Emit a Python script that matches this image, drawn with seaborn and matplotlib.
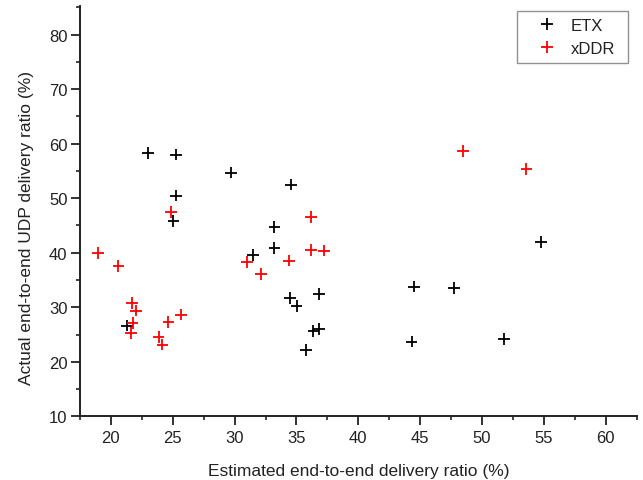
import matplotlib
matplotlib.use("Agg")
import matplotlib.pyplot as plt
from matplotlib.ticker import MultipleLocator
import seaborn as sns
import pandas as pd

# Estimated vs. actual end-to-end delivery ratio (%) for each metric
etx_est = [23.0, 25.25, 25.25, 25.06, 29.72, 34.56, 33.22, 33.22, 31.47, 34.48,
           35.02, 36.84, 36.37, 36.84, 35.75, 21.29, 54.76, 44.52, 47.75, 44.31, 51.77]
etx_act = [58.25, 58.0, 50.47, 45.83, 54.69, 52.49, 44.67, 40.88, 39.59, 31.7,
           30.18, 32.44, 25.7, 26.02, 22.16, 26.62, 41.92, 33.78, 33.54, 23.69, 24.13]

xddr_est = [24.87, 36.18, 48.48, 53.6, 18.95, 20.61, 21.7, 22.02, 21.75, 21.64,
            23.85, 24.17, 24.65, 25.68, 30.99, 32.14, 34.4, 36.18, 37.25]
xddr_act = [47.42, 46.5, 58.61, 55.37, 39.9, 37.57, 30.79, 29.37, 27.06, 25.23,
            24.6, 23.14, 27.24, 28.64, 38.25, 36.1, 38.55, 40.51, 40.38]

series_names = ["ETX", "xDDR"]
series_colors = ["black", "red"]

df = pd.DataFrame({
    "est": etx_est + xddr_est,
    "act": etx_act + xddr_act,
    "metric": [series_names[0]] * len(etx_est) + [series_names[1]] * len(xddr_est),
})

sns.set_style("ticks")
plt.rcParams["font.family"] = ["Liberation Sans", "DejaVu Sans"]

W, H = 643, 481
fig = plt.figure(figsize=(W / 100, H / 100), dpi=100)
ax = fig.add_axes([0.1244, 0.1324, 0.8656, 0.8526])

sns.scatterplot(data=df, x="est", y="act", hue="metric", hue_order=series_names,
                palette=dict(zip(series_names, series_colors)),
                marker="+", s=70, linewidth=1.3, ax=ax, zorder=3)

ax.set_xlim(17.5, 62.5)
ax.set_ylim(10, 85.2)
ax.xaxis.set_major_locator(MultipleLocator(5))
ax.xaxis.set_minor_locator(MultipleLocator(2.5))
ax.yaxis.set_major_locator(MultipleLocator(10))
ax.yaxis.set_minor_locator(MultipleLocator(5))

for side in ("top", "right"):
    ax.spines[side].set_visible(False)
for side in ("left", "bottom"):
    ax.spines[side].set_linewidth(1.4)
    ax.spines[side].set_color("#222222")

ax.tick_params(which="major", direction="out", length=6.5, width=1.3,
               color="#222222", labelsize=12, labelcolor="#222222")
ax.tick_params(axis="y", which="major", pad=2.5)
ax.tick_params(axis="x", which="major", pad=3.5)
ax.tick_params(which="minor", direction="out", length=3.2, width=1.2, color="#222222")

ax.set_xlabel("Estimated end-to-end delivery ratio (%)", fontsize=12.5,
              color="#222222", labelpad=13)
ax.set_ylabel("Actual end-to-end UDP delivery ratio (%)", fontsize=12.5,
              color="#222222")
ax.yaxis.set_label_coords(-0.0826, 0.4617)

handles, labels = ax.get_legend_handles_labels()
leg = ax.legend(handles, labels, loc="upper left",
                bbox_to_anchor=(517 / W, 1 - 11.7 / H, 111 / W, 0.0),
                bbox_transform=fig.transFigure, borderaxespad=0, mode="expand",
                fancybox=False, frameon=True, fontsize=12,
                handletextpad=0.05, borderpad=0.45, labelspacing=0.45,
                handlelength=2.7)
leg.get_frame().set_edgecolor("#777777")
leg.get_frame().set_linewidth(1.0)
for text in leg.get_texts():
    text.set_color("#222222")

fig.savefig("out.png", dpi=100)
